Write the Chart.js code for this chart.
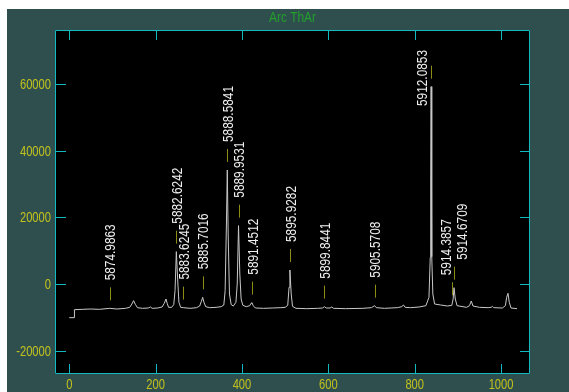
<!DOCTYPE html>
<html>
<head>
<meta charset="utf-8">
<script src="https://cdn.jsdelivr.net/npm/chart.js@4"></script>
<style>
  html, body { margin: 0; padding: 0; background: #ffffff; }
  #wrap { position: absolute; left: 7px; top: 9px; }
</style>
</head>
<body>
<div id="wrap"><canvas id="c" width="562" height="383"></canvas></div>
<script>
// Extracted ThAr arc spectrum (pixel vs counts)
const specX = [0, 11, 12, 30, 50, 70, 94, 110, 130, 140, 145, 149, 153, 158, 170, 183, 188, 192, 205, 215,
  220, 224, 227, 230, 237, 242, 245, 248, 251, 254, 258, 264, 280, 295, 302, 306, 309, 312, 316, 325,
  340, 352, 358, 361, 364, 366, 368, 371, 375, 380, 386, 389, 392, 395, 398, 402, 410, 418, 421, 423,
  426, 431, 450, 470, 490, 500, 506, 509, 511, 514, 517, 525, 550, 575, 587, 591, 595, 604, 608, 612,
  640, 680, 700, 707, 711, 730, 760, 770, 774, 778, 790, 810, 826, 833, 836, 837, 838, 839, 840, 842,
  846, 860, 876, 886, 889, 891, 894, 898, 920, 927, 931, 935, 950, 970, 977, 980, 983, 1003, 1010, 1013,
  1016, 1019, 1023, 1037];
const specY = [-10100, -10100, -7700, -7600, -7500, -7600, -7300, -7500, -7300, -7000, -6000, -5000, -6100, -7100, -7300, -7200, -6900, -7300, -7200, -6900,
  -5800, -4500, -5900, -7000, -7000, -6200, -2000, 9700, 1500, -5500, -7000, -7100, -7300, -7100, -6600, -5200, -4000, -5500, -6800, -7100,
  -7000, -6800, -6300, -2000, 18000, 34200, 15000, -3000, -6200, -6600, -5500, 0, 17500, 3000, -4500, -6400, -6800, -6500, -5800, -5600,
  -6500, -7200, -7300, -7200, -7100, -7000, -6400, -1000, 4200, -3000, -6700, -7300, -7400, -7300, -7200, -6800, -7200, -7200, -6900, -7300,
  -7400, -7300, -7100, -6500, -7100, -7300, -7100, -6800, -6300, -7000, -7100, -6900, -6500, -4000, 8000, 30000, 59200, 30000, 8200, -3000,
  -6000, -6300, -6600, -6400, -4500, -1100, -4500, -6500, -7000, -6500, -5100, -6600, -7000, -7100, -7000, -6700, -7100, -7200, -6500, -4000,
  -2800, -5500, -7200, -7400];

// Identified lines: pixel position and wavelength
const lineX = [94, 248, 264, 309, 366, 392, 423, 511, 591, 707, 838, 886, 891];
const lineLabels = ['5874.9863', '5882.6242', '5883.6245', '5885.7016', '5888.5841', '5889.9531', '5891.4512',
  '5895.9282', '5899.8441', '5905.5708', '5912.0853', '5914.3857', '5914.6709'];

const xTickValues = [0, 200, 400, 600, 800, 1000];
const yTickValues = [-20000, 0, 20000, 40000, 60000];
const titleText = 'Arc ThAr';

const SLATE = '#2f4f4f';
const CYAN = '#12b9c0';
const YELLOW = '#c2c21c';
const OLIVE = '#8c8c14';
const FONT = '"Liberation Sans", Arial, sans-serif';

function specAt(x) {
  if (x <= specX[0]) return specY[0];
  for (let i = 1; i < specX.length; i++) {
    if (x <= specX[i]) {
      const t = (x - specX[i - 1]) / (specX[i] - specX[i - 1]);
      return specY[i - 1] + t * (specY[i] - specY[i - 1]);
    }
  }
  return specY[specY.length - 1];
}
function localMax(x) {
  let m = -Infinity;
  for (let d = -1; d <= 1; d += 0.5) m = Math.max(m, specAt(x + d));
  specX.forEach((sx, i) => { if (Math.abs(sx - x) <= 1) m = Math.max(m, specY[i]); });
  return m;
}

// narrow text: a regular face squeezed along the writing direction
function narrowText(ctx, text, x, y, opt) {
  ctx.save();
  ctx.font = opt.size + 'px ' + FONT;
  ctx.fillStyle = opt.color;
  ctx.textAlign = opt.align || 'left';
  ctx.textBaseline = opt.baseline || 'alphabetic';
  ctx.translate(x, y);
  if (opt.rotate) ctx.rotate(opt.rotate);
  ctx.scale(opt.squeeze, 1);
  ctx.fillText(text, 0, 0);
  ctx.restore();
}

const framePlugin = {
  id: 'frame',
  beforeDraw(chart) {
    const { ctx, chartArea: a } = chart;
    ctx.save();
    ctx.fillStyle = SLATE;
    ctx.fillRect(0, 0, chart.width, chart.height);
    ctx.fillStyle = '#000000';
    ctx.fillRect(a.left, a.top, a.right - a.left, a.bottom - a.top);
    ctx.restore();
  },
  afterDraw(chart) {
    const { ctx, chartArea: a } = chart;
    const xs = chart.scales.x, ys = chart.scales.y;
    ctx.save();

    // axis box and inward ticks
    ctx.strokeStyle = CYAN;
    ctx.lineWidth = 1;
    ctx.beginPath();
    ctx.rect(a.left + 0.5, a.top + 0.5, a.right - a.left - 1, a.bottom - a.top - 1);
    xTickValues.forEach(v => {
      const px = Math.round(xs.getPixelForValue(v)) + 0.5;
      ctx.moveTo(px, a.bottom); ctx.lineTo(px, a.bottom - 10);
      ctx.moveTo(px, a.top); ctx.lineTo(px, a.top + 10);
    });
    yTickValues.forEach(v => {
      const py = Math.round(ys.getPixelForValue(v)) + 0.5;
      ctx.moveTo(a.left, py); ctx.lineTo(a.left + 11, py);
      ctx.moveTo(a.right, py); ctx.lineTo(a.right - 10, py);
    });
    ctx.stroke();

    // tick labels
    xTickValues.forEach(v => {
      narrowText(ctx, String(v), xs.getPixelForValue(v), a.bottom + 15,
        { size: 14.5, color: YELLOW, align: 'center', squeeze: 0.77 });
    });
    yTickValues.forEach(v => {
      narrowText(ctx, String(v), a.left - 4, ys.getPixelForValue(v) + 5,
        { size: 14.5, color: YELLOW, align: 'right', squeeze: 0.77 });
    });

    // title
    narrowText(ctx, titleText, (a.left + a.right) / 2, 13,
      { size: 14, color: '#22a02a', align: 'center', squeeze: 0.85 });

    // line markers and labels
    const labelSize = 15, labelSqueeze = 0.79;
    ctx.font = labelSize + 'px ' + FONT;
    const items = lineX.map((x, i) => {
      const px = xs.getPixelForValue(x);
      const bottom = ys.getPixelForValue(localMax(x)) - 8;
      const top = bottom - 13;
      const len = ctx.measureText(lineLabels[i]).width * labelSqueeze;
      let lx = px + 1, lBottom = top - 7;
      if (lBottom - len < a.top + 5) {
        // no room above: put the label beside the marker
        lx = px - 9;
        lBottom = a.top + 20 + len;
      }
      return { px, top, bottom, lx, lBottom, lTop: lBottom - len, text: lineLabels[i] };
    });
    // spread labels that would overlap
    for (let i = 0; i < items.length; i++) {
      for (let j = i + 1; j < items.length; j++) {
        const p = items[i], q = items[j];
        const vOver = p.lTop < q.lBottom - 1 && q.lTop < p.lBottom - 1;
        if (vOver && Math.abs(q.lx - p.lx) < 14) {
          const mid = (p.lx + q.lx) / 2;
          p.lx = mid - 8; q.lx = mid + 8;
        }
      }
    }
    ctx.strokeStyle = OLIVE;
    ctx.beginPath();
    items.forEach(it => {
      const px = Math.round(it.px) + 0.5;
      ctx.moveTo(px, it.bottom); ctx.lineTo(px, it.top);
    });
    ctx.stroke();

    items.forEach(it => {
      narrowText(ctx, it.text, it.lx + 0.5, it.lBottom,
        { size: labelSize, color: '#f0f0f0', align: 'left', baseline: 'middle',
          rotate: -Math.PI / 2, squeeze: labelSqueeze });
    });
    ctx.restore();
  }
};

new Chart(document.getElementById('c'), {
  type: 'line',
  data: {
    datasets: [{
      data: specX.map((x, i) => ({ x, y: specY[i] })),
      borderColor: '#c8c8c8',
      borderWidth: 1,
      pointRadius: 0,
      tension: 0,
      fill: false
    }]
  },
  options: {
    responsive: false,
    animation: false,
    events: [],
    layout: { padding: { top: 21, right: 39, left: 0, bottom: 0 } },
    plugins: { legend: { display: false }, tooltip: { enabled: false }, title: { display: false } },
    scales: {
      x: {
        type: 'linear', min: -33, max: 1067,
        grid: { display: false }, border: { display: false },
        afterFit(scale) { scale.height = 18; },
        afterBuildTicks(scale) { scale.ticks = xTickValues.map(v => ({ value: v })); },
        ticks: { display: false }
      },
      y: {
        type: 'linear', min: -27000, max: 76200,
        grid: { display: false }, border: { display: false },
        afterFit(scale) { scale.width = 48; },
        afterBuildTicks(scale) { scale.ticks = yTickValues.map(v => ({ value: v })); },
        ticks: { display: false }
      }
    }
  },
  plugins: [framePlugin]
});
</script>
</body>
</html>
